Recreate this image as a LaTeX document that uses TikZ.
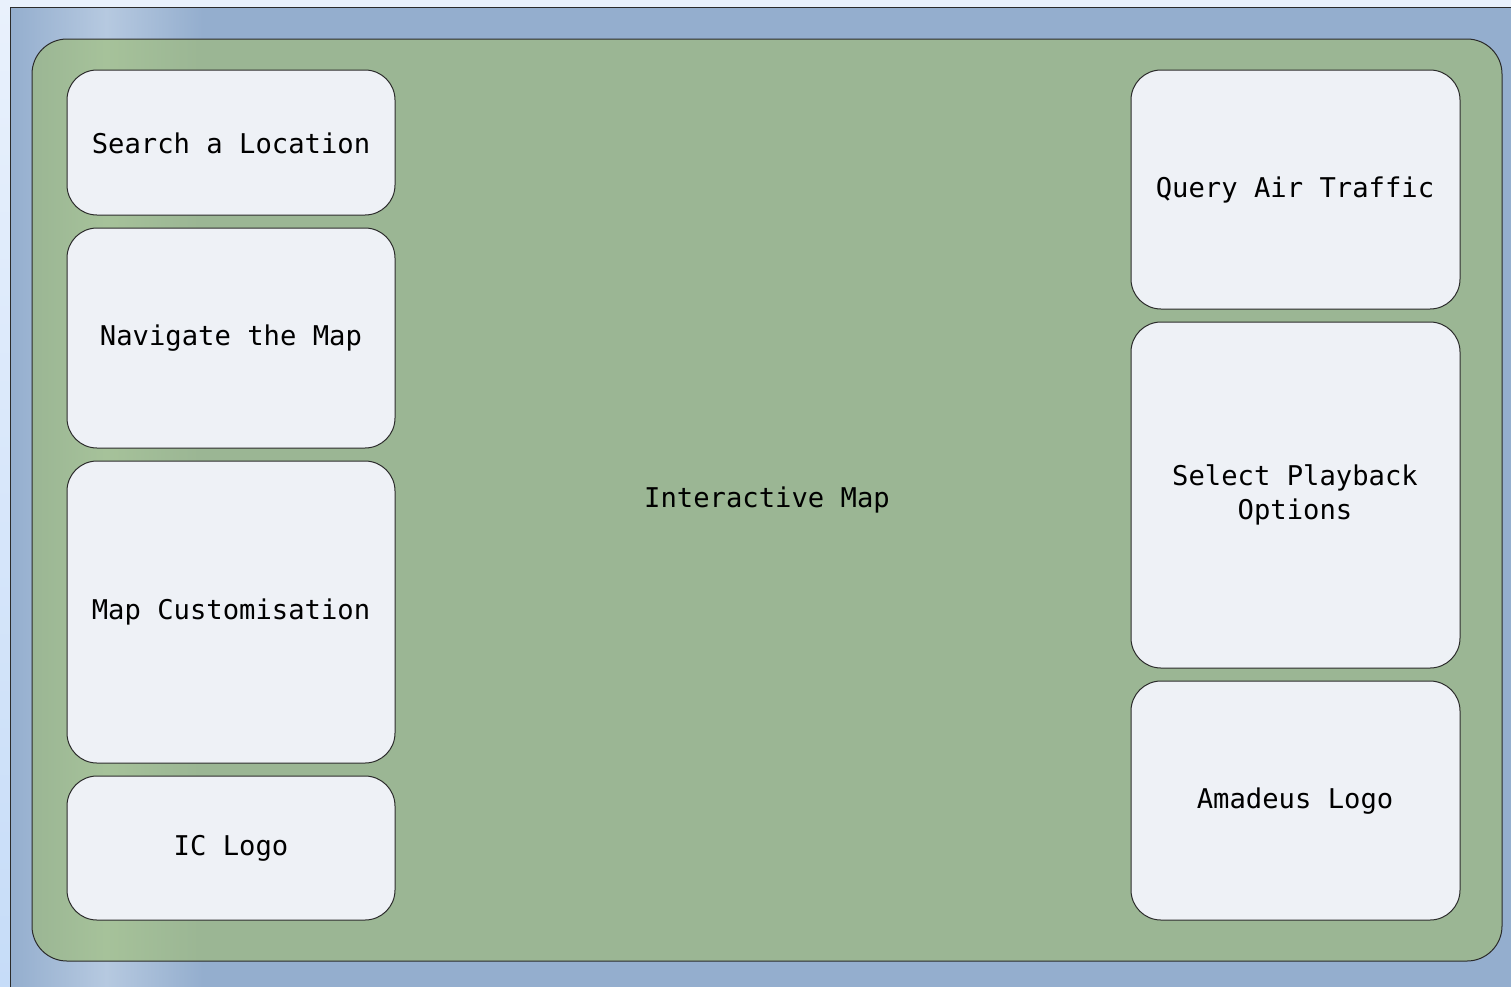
\documentclass[tikz,border=0pt]{standalone}
\usepackage{fontspec}
\newfontfamily\boxfont{DejaVu Sans Mono}

\definecolor{pagetop}{HTML}{E9F1FC}
\definecolor{pagebot}{HTML}{C6DCF8}
\definecolor{frameblue}{HTML}{94AECE}
\definecolor{frameglow}{HTML}{B6C9E0}
\definecolor{mapgreen}{HTML}{9BB694}
\definecolor{mapglow}{HTML}{A6C29A}
\definecolor{panelfill}{HTML}{EEF1F6}
\definecolor{edge}{HTML}{2B2B2B}

% horizontal shadings with a soft light band near the left edge
% (the shaded path is mapped onto the 25bp..75bp part of the shading)
\pgfdeclarehorizontalshading{framebluebar}{100bp}{%
  color(0bp)=(frameblue); color(25bp)=(frameblue); color(28.2bp)=(frameglow);
  color(31.4bp)=(frameblue); color(100bp)=(frameblue)}
\pgfdeclarehorizontalshading{mapgreenbar}{100bp}{%
  color(0bp)=(mapgreen); color(25bp)=(mapgreen); color(27.5bp)=(mapglow);
  color(30.7bp)=(mapgreen); color(100bp)=(mapgreen)}

\tikzset{
  panel/.style={draw=edge, line width=1pt, fill=panelfill, rounded corners=30pt},
  label/.style={font=\boxfont\fontsize{27.2}{34}\selectfont, align=center, inner sep=0pt}
}

\begin{document}
\begin{tikzpicture}[x=1pt,y=-1pt]
  \useasboundingbox (0,0) rectangle (1511,986);

  % page background
  \shade[top color=pagetop, bottom color=pagebot] (0,0) rectangle (1511,986);

  % outer window frame
  \shade[shading=framebluebar, shading angle=0] (10,7) rectangle (1516,992);
  \draw[edge, line width=1pt] (10,992) -- (10,7) -- (1516,7);

  % map area
  \shade[shading=mapgreenbar, shading angle=0] [rounded corners=35pt]
    (32,39) rectangle (1502,961);
  \draw[edge, line width=1pt, rounded corners=35pt] (32,39) rectangle (1502,961);
  \node[label] (map) at (767,500) {Interactive Map};

  % left column
  \path[panel] (67,70) rectangle (395,215);
  \node[label] (search) at (231,143) {Search a Location};
  \path[panel] (67,228) rectangle (395,448);
  \node[label] (nav) at (231,338) {Navigate the Map};
  \path[panel] (67,461) rectangle (395,763);
  \node[label] (custom) at (231,612) {Map Customisation};
  \path[panel] (67,776) rectangle (395,920);
  \node[label] (iclogo) at (231,848) {IC Logo};

  % right column
  \path[panel] (1131,70) rectangle (1460,309);
  \node[label] (query) at (1295,190) {Query Air Traffic};
  \path[panel] (1131,322) rectangle (1460,668);
  \node[label] (playback) at (1295,495) {Select Playback\\Options};
  \path[panel] (1131,681) rectangle (1460,920);
  \node[label] (amadeus) at (1295,801) {Amadeus Logo};
\end{tikzpicture}
\end{document}
